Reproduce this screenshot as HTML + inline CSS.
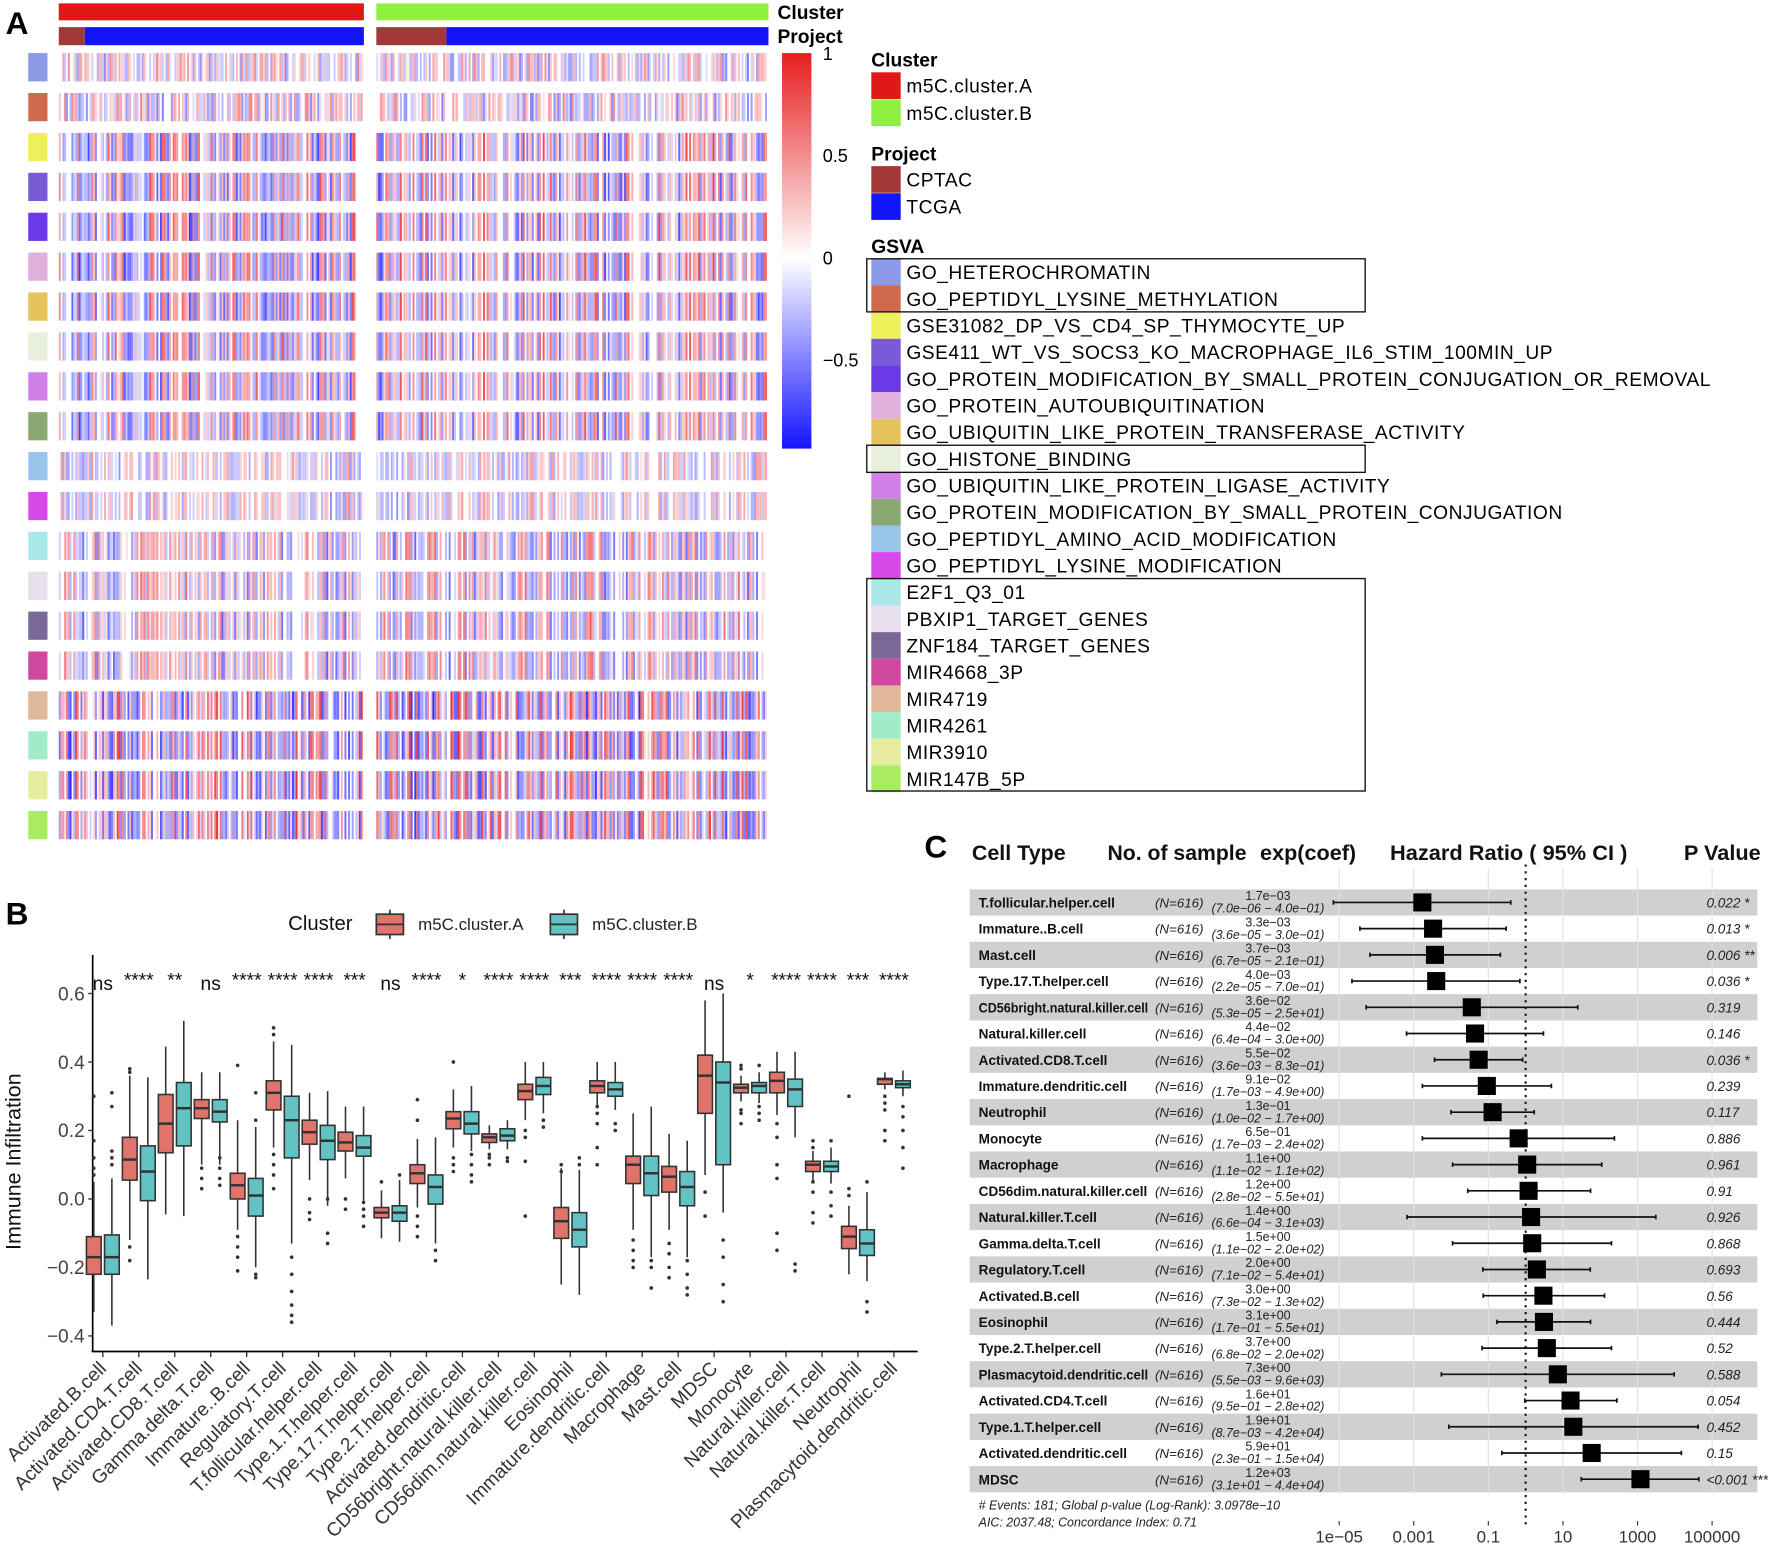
<!DOCTYPE html>
<html><head><meta charset="utf-8"><style>
html,body{margin:0;padding:0;background:#fff;}
svg{display:block;font-family:"Liberation Sans",sans-serif;}
.nar{font-family:"Liberation Sans Narrow","Liberation Sans",sans-serif;}
</style></head><body>
<svg id="fig" width="1772" height="1547" viewBox="0 0 1568 1369" preserveAspectRatio="none" xmlns="http://www.w3.org/2000/svg">
<rect width="1568" height="1369" fill="#fff"/>
<g id="panelA"></g>
<g id="panelB"></g>
<g id="panelC"></g>
</svg>
<script>
// ===== Panel A data =====
const gsvaNames = ["GO_HETEROCHROMATIN","GO_PEPTIDYL_LYSINE_METHYLATION","GSE31082_DP_VS_CD4_SP_THYMOCYTE_UP","GSE411_WT_VS_SOCS3_KO_MACROPHAGE_IL6_STIM_100MIN_UP","GO_PROTEIN_MODIFICATION_BY_SMALL_PROTEIN_CONJUGATION_OR_REMOVAL","GO_PROTEIN_AUTOUBIQUITINATION","GO_UBIQUITIN_LIKE_PROTEIN_TRANSFERASE_ACTIVITY","GO_HISTONE_BINDING","GO_UBIQUITIN_LIKE_PROTEIN_LIGASE_ACTIVITY","GO_PROTEIN_MODIFICATION_BY_SMALL_PROTEIN_CONJUGATION","GO_PEPTIDYL_AMINO_ACID_MODIFICATION","GO_PEPTIDYL_LYSINE_MODIFICATION","E2F1_Q3_01","PBXIP1_TARGET_GENES","ZNF184_TARGET_GENES","MIR4668_3P","MIR4719","MIR4261","MIR3910","MIR147B_5P"];
const gsvaColors = ["#8c9ae8","#d06a4e","#eef05a","#7b5ad8","#6a3ae8","#e0b0dc","#e6c35a","#e8f0dc","#d080e8","#8aa870","#98c4ec","#d848e8","#a8e8e8","#e8e0ec","#7a6898","#d048a0","#e0b89a","#a0ecc8","#e8eca0","#a8ec60"];
const rowIntensity = [0.55,0.6,0.85,0.85,0.85,0.85,0.85,0.8,0.8,0.8,0.5,0.5,0.7,0.7,0.7,0.7,0.95,0.95,0.95,0.95];
const rowPatternGroup = [0,1,2,2,2,2,2,2,2,2,3,3,4,4,4,4,5,5,5,5];
const scaleTicks = [1,0.5,0,-0.5];
const scaleTickLabels = ["1","0.5","0","\u22120.5"];

// ===== Panel B data =====
const cellTypes = ["Activated.B.cell","Activated.CD4.T.cell","Activated.CD8.T.cell","Gamma.delta.T.cell","Immature..B.cell","Regulatory.T.cell","T.follicular.helper.cell","Type.1.T.helper.cell","Type.17.T.helper.cell","Type.2.T.helper.cell","Activated.dendritic.cell","CD56bright.natural.killer.cell","CD56dim.natural.killer.cell","Eosinophil","Immature.dendritic.cell","Macrophage","Mast.cell","MDSC","Monocyte","Natural.killer.cell","Natural.killer.T.cell","Neutrophil","Plasmacytoid.dendritic.cell"];
const sigLabels = ["ns","****","**","ns","****","****","****","***","ns","****","*","****","****","***","****","****","****","ns","*","****","****","***","****"];
// [whiskerLow, q1, median, q3, whiskerHigh]
const boxA = [[-0.33,-0.22,-0.17,-0.11,0.05],[-0.12,0.055,0.115,0.18,0.36],[-0.045,0.135,0.22,0.305,0.445],[0.10,0.235,0.265,0.29,0.37],[-0.09,0.0,0.04,0.075,0.23],[0.15,0.26,0.31,0.345,0.46],[0.055,0.16,0.195,0.23,0.31],[0.06,0.14,0.165,0.195,0.27],[-0.115,-0.055,-0.04,-0.025,0.025],[-0.025,0.045,0.075,0.10,0.175],[0.15,0.205,0.235,0.255,0.32],[0.145,0.165,0.18,0.19,0.215],[0.23,0.29,0.315,0.335,0.40],[-0.25,-0.115,-0.065,-0.025,0.09],[0.27,0.31,0.33,0.345,0.40],[-0.09,0.045,0.10,0.125,0.25],[-0.09,0.02,0.065,0.095,0.19],[0.07,0.25,0.36,0.42,0.58],[0.285,0.31,0.325,0.335,0.36],[0.245,0.31,0.345,0.37,0.43],[0.055,0.08,0.10,0.11,0.14],[-0.22,-0.145,-0.11,-0.08,-0.02],[0.32,0.335,0.35,0.352,0.37]];
const boxB = [[-0.37,-0.22,-0.17,-0.105,0.06],[-0.235,-0.005,0.08,0.155,0.355],[-0.05,0.155,0.265,0.34,0.52],[0.10,0.225,0.255,0.29,0.37],[-0.2,-0.05,0.01,0.06,0.21],[-0.13,0.12,0.23,0.30,0.45],[-0.02,0.115,0.17,0.215,0.315],[-0.005,0.125,0.15,0.185,0.27],[-0.125,-0.065,-0.04,-0.02,0.055],[-0.13,-0.015,0.035,0.07,0.18],[0.14,0.19,0.22,0.255,0.33],[0.145,0.17,0.185,0.205,0.23],[0.25,0.305,0.33,0.355,0.40],[-0.28,-0.14,-0.09,-0.04,0.085],[0.26,0.30,0.32,0.34,0.40],[-0.17,0.01,0.075,0.125,0.27],[-0.17,-0.02,0.035,0.08,0.17],[-0.04,0.10,0.34,0.40,0.60],[0.28,0.31,0.33,0.34,0.37],[0.18,0.27,0.32,0.35,0.43],[0.045,0.08,0.095,0.11,0.15],[-0.24,-0.165,-0.13,-0.09,0.02],[0.30,0.325,0.335,0.345,0.375]];
const outA = [[0.30,0.17,0.12,0.09,0.07],[0.38,0.37,-0.14,-0.18],[],[0.03,0.06,0.09],[0.39,-0.11,-0.14,-0.17,-0.21],[0.50,0.48,0.13,0.10,0.07,0.03],[0.0,-0.04,-0.06],[0.0,-0.03],[0.05],[0.29,0.23,-0.05,-0.08,-0.11],[0.40,0.12,0.10,0.08],[0.13,0.12,0.10],[0.20,0.18,0.11,-0.05],[0.10,0.08],[0.27,0.25,0.22,0.15,0.10],[-0.12,-0.15,-0.18,-0.20],[-0.13,-0.16,-0.20,-0.23],[0.02,-0.05],[0.38,0.39,0.26,0.25,0.22],[0.22,0.18,0.10,0.06,-0.10,-0.15],[0.17,0.15,0.05,0.02,-0.04,-0.07],[0.03,0.01,0.30],[0.30,0.28,0.26,0.20,0.17]];
const outB = [[0.31,0.27,0.14,0.12,0.10],[],[],[0.12,0.09,0.06,0.04],[0.31,0.23,-0.22,-0.23],[-0.17,-0.22,-0.27,-0.31,-0.34,-0.36],[0.0,-0.10,-0.13],[-0.01,-0.03,-0.05,-0.08],[0.07],[-0.15,-0.18],[0.13,0.10,0.07,0.05],[0.12,0.11],[0.23,0.21],[0.12,0.10],[0.22,0.20],[-0.18,-0.20,-0.26],[-0.18,-0.22,-0.26,-0.28],[-0.12,-0.17,-0.25,-0.30],[0.39,0.27,0.25,0.23],[-0.19,-0.21],[0.17,0.02,-0.02,-0.05],[0.05,-0.30,-0.33],[0.27,0.24,0.20,0.15,0.09]];
const yTicksB = [0.6,0.4,0.2,0.0,-0.2,-0.4];
const yTickLabelsB = ["0.6","0.4","0.2","0.0","\u22120.2","\u22120.4"];

// ===== Panel C data =====
const forestNames = ["T.follicular.helper.cell","Immature..B.cell","Mast.cell","Type.17.T.helper.cell","CD56bright.natural.killer.cell","Natural.killer.cell","Activated.CD8.T.cell","Immature.dendritic.cell","Neutrophil","Monocyte","Macrophage","CD56dim.natural.killer.cell","Natural.killer.T.cell","Gamma.delta.T.cell","Regulatory.T.cell","Activated.B.cell","Eosinophil","Type.2.T.helper.cell","Plasmacytoid.dendritic.cell","Activated.CD4.T.cell","Type.1.T.helper.cell","Activated.dendritic.cell","MDSC"];
const hr = [1.7e-3,3.3e-3,3.7e-3,4.0e-3,3.6e-2,4.4e-2,5.5e-2,9.1e-2,1.3e-1,6.5e-1,1.1,1.2,1.4,1.5,2.0,3.0,3.1,3.7,7.3,16,19,59,1200];
const ciLow = [7.0e-6,3.6e-5,6.7e-5,2.2e-5,5.3e-5,6.4e-4,3.6e-3,1.7e-3,1.0e-2,1.7e-3,1.1e-2,2.8e-2,6.6e-4,1.1e-2,7.1e-2,7.3e-2,1.7e-1,6.8e-2,5.5e-3,9.5e-1,8.7e-3,2.3e-1,31];
const ciHigh = [0.40,0.30,0.21,0.70,25,3.0,0.83,4.9,1.7,240,110,55,3100,200,54,130,55,200,9600,280,42000,15000,44000];
const pLabels = ["0.022 *","0.013 *","0.006 **","0.036 *","0.319","0.146","0.036 *","0.239","0.117","0.886","0.961","0.91","0.926","0.868","0.693","0.56","0.444","0.52","0.588","0.054","0.452","0.15","<0.001 ***"];
const xTicksC = [1e-5,1e-3,1e-1,10,1000,100000];
const xTickLabelsC = ["1e\u221205","0.001","0.1","10","1000","100000"];

const NS="http://www.w3.org/2000/svg";
function mk(parent,tag,attrs,text){const e=document.createElementNS(NS,tag);for(const k in attrs)e.setAttribute(k,attrs[k]);if(text!==undefined)e.textContent=text;parent.appendChild(e);return e;}
function fit(e,maxW){try{const w=e.getComputedTextLength();if(w>maxW){e.setAttribute('textLength',maxW);e.setAttribute('lengthAdjust','spacingAndGlyphs');}}catch(err){}}
function fmt(v){let s=v.toExponential(1);let [m,e]=s.split("e");let n=parseInt(e);return m+"e"+(n<0?"\u2212":"+")+String(Math.abs(n)).padStart(2,"0");}

// ===== Panel A =====
(function(){
const g=document.getElementById('panelA');
let t=mk(g,'text',{x:5,y:30,'font-size':28,'font-weight':'bold'},'A');

const blocks=[[52,322,75],[333,680,395]];
const clusterCols=["#e01818","#90f040"];
blocks.forEach((b,bi)=>{
  let r=mk(g,'rect',{x:b[0],y:3,width:b[1]-b[0],height:15,fill:clusterCols[bi]});
  
  r=mk(g,'rect',{x:b[0],y:24,width:b[2]-b[0],height:16,fill:"#a33838"});
  
  r=mk(g,'rect',{x:b[2],y:24,width:b[1]-b[2],height:16,fill:"#1414f8"});
  
});
t=mk(g,'text',{x:688,y:17,'font-size':17,'font-weight':'bold'},'Cluster');

t=mk(g,'text',{x:688,y:38,'font-size':17,'font-weight':'bold'},'Project');

function hash(a,b){let h=(a*374761393+b*668265263)>>>0;h=((h^(h>>>13))*1274126177)>>>0;return ((h^(h>>>16))>>>0)/4294967296;}
function col(v){
  if(v>=0){const k=v;return `rgb(${Math.round(255-(255-230)*k)},${Math.round(255-(255-20)*k)},${Math.round(255-(255-30)*k)})`;}
  const k=-v;return `rgb(${Math.round(255-(255-20)*k)},${Math.round(255-(255-20)*k)},255)`;}
const rowStep=35.3,rowH=25,stripeW=1.6;
gsvaNames.forEach((nm,ri)=>{
  const y=47+ri*rowStep;
  let s=mk(g,'rect',{x:25,y:y,width:17,height:rowH,fill:gsvaColors[ri]});
  
  const rg=mk(g,'g',{});
  
  blocks.forEach((b,bi)=>{
    const n=Math.floor((b[1]-b[0])/stripeW);
    for(let i=0;i<n;i++){
      const u=hash(i+bi*1000,rowPatternGroup[ri]*7+3);
      const w=hash(i+bi*1000+77,ri+11);
      let v=(u*2-1);
      v=Math.sign(v)*Math.pow(Math.abs(v),0.9)*rowIntensity[ri]*(0.55+0.45*w);
      if(Math.abs(v)<0.14)continue;
      mk(rg,'rect',{x:(b[0]+i*stripeW).toFixed(1),y:y,width:stripeW+0.15,height:rowH,fill:col(v)});
    }
  });
});
const defs=mk(g,'defs',{});
const lg=mk(defs,'linearGradient',{id:'cs',x1:0,y1:0,x2:0,y2:1});
mk(lg,'stop',{offset:'0',  'stop-color':'#e61e1e'});
mk(lg,'stop',{offset:'0.52','stop-color':'#ffffff'});
mk(lg,'stop',{offset:'1','stop-color':'#1414ff'});
let cs=mk(g,'rect',{x:692,y:47,width:26,height:350,fill:'url(#cs)'});

const sy=v=>228-v*181;
scaleTicks.forEach((v,i)=>{
  let tt=mk(g,'text',{x:728,y:sy(v)+6,'font-size':16},scaleTickLabels[i]);
  
});
function lgTitle(txt,y,name){let e=mk(g,'text',{x:771,y:y,'font-size':17,'font-weight':'bold'},txt);}
function lgItem(col,txt,y,name){
  const gi=mk(g,'g',{});
  mk(gi,'rect',{x:771,y:y,width:26,height:23.6,fill:col});
  mk(gi,'text',{x:802,y:y+18,'font-size':17,'letter-spacing':0.45},txt);
}
lgTitle('Cluster',59,'legend-cluster-title');
lgItem('#e01818','m5C.cluster.A',64,'legend-entry-cluster-a');
lgItem('#90f040','m5C.cluster.B',88,'legend-entry-cluster-b');
lgTitle('Project',142,'legend-project-title');
lgItem('#a33838','CPTAC',147,'legend-entry-cptac');
lgItem('#1414f8','TCGA',171,'legend-entry-tcga');
lgTitle('GSVA',224,'legend-gsva-title');
gsvaNames.forEach((nm,i)=>lgItem(gsvaColors[i],nm,229+i*23.6,'legend-entry-gsva'));
[[229,276],[394,418],[512,700]].forEach(b=>{
  let r=mk(g,'rect',{x:767,y:b[0],width:441,height:b[1]-b[0],fill:'none',stroke:'#111','stroke-width':1.2});
  
});
})();

// ===== Panel B =====
(function(){
const g=document.getElementById('panelB');
let t=mk(g,'text',{x:5,y:818,'font-size':28,'font-weight':'bold'},'B');

const cA="#e0736a",cB="#63c2c4";
const leg=mk(g,'g',{});
mk(leg,'text',{x:255,y:823,'font-size':18,fill:'#111'},'Cluster');
[[333,cA,'m5C.cluster.A'],[487,cB,'m5C.cluster.B']].forEach(e=>{
  mk(leg,'line',{x1:e[0]+12,x2:e[0]+12,y1:805,y2:831,stroke:'#333','stroke-width':1.5});
  mk(leg,'rect',{x:e[0],y:809,width:24,height:18,fill:e[1],stroke:'#333','stroke-width':1.5});
  mk(leg,'line',{x1:e[0],x2:e[0]+24,y1:818,y2:818,stroke:'#333','stroke-width':1.5});
  mk(leg,'text',{x:e[0]+37,y:823,'font-size':15,fill:'#222'},e[2]);
});
const X0=91,DX=(791-91)/22;
const xp=i=>X0+i*DX;
const yp=v=>1061-v*303;
let ax=mk(g,'line',{x1:82,x2:82,y1:845,y2:1196,stroke:'#000','stroke-width':1.5});

ax=mk(g,'line',{x1:81,x2:812,y1:1196,y2:1196,stroke:'#000','stroke-width':1.5});

yTicksB.forEach((v,i)=>{
  mk(g,'line',{x1:78,x2:82,y1:yp(v),y2:yp(v),stroke:'#333','stroke-width':1.2});
  let tl=mk(g,'text',{x:75,y:yp(v)+6,'font-size':17,'text-anchor':'end',fill:'#444'},yTickLabelsB[i]);
  
});
t=mk(g,'text',{x:0,y:0,'font-size':19,'text-anchor':'middle',fill:'#111',transform:'translate(18,1028) rotate(-90)'},'Immune Infiltration');

function drawBox(parent,cx,b,outs,fill){
  const w=13;
  mk(parent,'line',{x1:cx,x2:cx,y1:yp(b[0]),y2:yp(b[4]),stroke:'#333','stroke-width':1.4});
  mk(parent,'rect',{x:cx-w/2,y:yp(b[3]),width:w,height:Math.max(1,yp(b[1])-yp(b[3])),fill:fill,stroke:'#333','stroke-width':1.4});
  mk(parent,'line',{x1:cx-w/2,x2:cx+w/2,y1:yp(b[2]),y2:yp(b[2]),stroke:'#333','stroke-width':2.2});
  outs.forEach(o=>mk(parent,'circle',{cx:cx,cy:yp(o),r:1.6,fill:'#333'}));
}
cellTypes.forEach((c,i)=>{
  const cx=xp(i);
  const gi=mk(g,'g',{});
  drawBox(gi,cx-8,boxA[i],outA[i],cA);
  drawBox(gi,cx+8,boxB[i],outB[i],cB);
  mk(g,'line',{x1:cx,x2:cx,y1:1196,y2:1201,stroke:'#333','stroke-width':1.2});
  let s=mk(g,'text',{x:cx,y:sigLabels[i]==='ns'?876:873,'font-size':17,'text-anchor':'middle',fill:'#111'},sigLabels[i]);
  
  let xl=mk(g,'text',{x:0,y:0,'font-size':17,'text-anchor':'end',fill:'#333',transform:`translate(${cx+4},${1212}) rotate(-45)`},c);
  
});
})();

// ===== Panel C =====
(function(){
const g=document.getElementById('panelC');
let t=mk(g,'text',{x:818,y:759,'font-size':28,'font-weight':'bold'},'C');

[["Cell Type",860,83],["No. of sample",980,123],["exp(coef)",1115,85],["Hazard Ratio ( 95% CI )",1230,210],["P Value",1490,68]].forEach(h=>{
  let e=mk(g,'text',{x:h[1],y:761,'font-size':19,'font-weight':'bold',class:'nar',fill:'#111',textLength:h[2],lengthAdjust:'spacingAndGlyphs'},h[0]);
  
});
const RY=787,RH=23.2;
const xl=v=>1251+(Math.log10(v)+3)*33;
forestNames.forEach((n,i)=>{
  if(i%2===0){let b=mk(g,'rect',{x:858,y:RY+i*RH,width:697,height:RH,fill:'#d0d0d0'});}
});
xTicksC.forEach(v=>{let gl=mk(g,'line',{x1:xl(v),x2:xl(v),y1:768,y2:1322,stroke:'#e2e2e2','stroke-width':1});});
let ref=mk(g,'line',{x1:xl(1),x2:xl(1),y1:765,y2:1350,stroke:'#111','stroke-width':1.8,'stroke-dasharray':'2,4'});

forestNames.forEach((n,i)=>{
  const yc=RY+i*RH+RH/2;
  const gi=mk(g,'g',{});
  const nt=mk(gi,'text',{x:866,y:yc+4.5,'font-size':12,'font-weight':'bold',class:'nar',fill:'#111'},n);
  fit(nt,150);
  mk(gi,'text',{x:1022,y:yc+4.5,'font-size':11.5,'font-style':'italic',class:'nar',fill:'#222',textLength:43,lengthAdjust:'spacingAndGlyphs'},'(N=616)');
  mk(gi,'text',{x:1122,y:yc-2,'font-size':11,'text-anchor':'middle',class:'nar',fill:'#222'},fmt(hr[i]));
  const ci=mk(gi,'text',{x:1122,y:yc+9,'font-size':11,'text-anchor':'middle','font-style':'italic',class:'nar',fill:'#222'},'('+fmt(ciLow[i])+' \u2212 '+fmt(ciHigh[i])+')');
  fit(ci,104);
  mk(gi,'line',{x1:xl(ciLow[i]),x2:xl(ciHigh[i]),y1:yc,y2:yc,stroke:'#111','stroke-width':1.5});
  mk(gi,'line',{x1:xl(ciLow[i]),x2:xl(ciLow[i]),y1:yc-2,y2:yc+2,stroke:'#111','stroke-width':1.5});
  mk(gi,'line',{x1:xl(ciHigh[i]),x2:xl(ciHigh[i]),y1:yc-2,y2:yc+2,stroke:'#111','stroke-width':1.5});
  mk(gi,'rect',{x:xl(hr[i])-8,y:yc-8,width:16,height:16,fill:'#000'});
  mk(gi,'text',{x:1510,y:yc+4.5,'font-size':12,'font-style':'italic',class:'nar',fill:'#222'},pLabels[i]);
});
xTicksC.forEach((v,i)=>{
  mk(g,'line',{x1:xl(v),x2:xl(v),y1:1346,y2:1350,stroke:'#333'});
  let e=mk(g,'text',{x:xl(v),y:1365,'font-size':15,'text-anchor':'middle',fill:'#333'},xTickLabelsC[i]);
  
});
let f=mk(g,'text',{x:866,y:1336,'font-size':11,'font-style':'italic',fill:'#222'},'# Events: 181; Global p-value (Log-Rank): 3.0978e\u221210');

f=mk(g,'text',{x:866,y:1351,'font-size':11,'font-style':'italic',fill:'#222'},'AIC: 2037.48; Concordance Index: 0.71');

})();
</script>
</body></html>
